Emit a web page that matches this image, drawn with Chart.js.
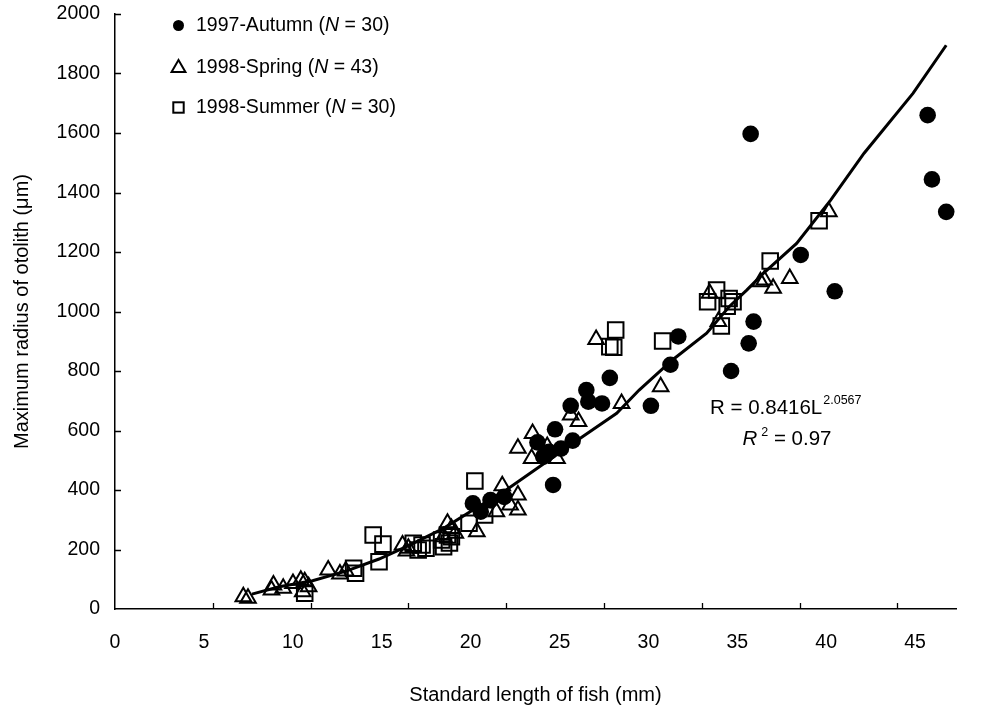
<!DOCTYPE html>
<html>
<head>
<meta charset="utf-8">
<script src="https://cdn.jsdelivr.net/npm/chart.js@4.4.0/dist/chart.umd.min.js"></script>
<style>
  html, body { margin: 0; padding: 0; background: #fff; }
  #chart { display: block; }
</style>
</head>
<body>
<canvas id="chart" width="986" height="712"></canvas>
<script>
// 1997 autumn (filled circles)
const autumnLength = [18.3, 18.7, 19.2, 19.9, 21.6, 21.9, 22.2, 22.4, 22.5, 22.8, 23.3, 23.4, 24.1, 24.2,
  24.9, 25.3, 27.4, 28.4, 28.8, 31.5, 32.4, 32.5, 32.65, 35.06, 36.8, 41.55, 41.77, 42.5];
const autumnRadius = [355, 327, 366, 377, 560, 512, 528, 417, 604, 539, 683, 566, 736, 697,
  691, 777, 683, 821, 916, 800, 893, 1597, 966, 1190, 1068, 1660, 1444, 1335];

// 1998 spring (open triangles)
const springLength = [6.56, 6.8, 8.0, 8.1, 8.6, 9.1, 9.5, 9.6, 9.7, 9.9, 10.9, 11.5, 11.8, 14.7, 14.9,
  15.0, 16.8, 17.0, 17.2, 17.4, 18.5, 19.5, 19.8, 20.2, 20.6, 20.6, 20.6, 21.3, 21.35, 22.1, 22.6,
  23.3, 23.7, 24.6, 25.9, 27.9, 30.4, 30.85, 33.0, 33.2, 33.65, 34.5, 36.5];
const springRadius = [41, 36, 64, 81, 70, 86, 97, 58, 92, 75, 131, 118, 128, 215, 195,
  204, 243, 288, 271, 255, 260, 327, 414, 350, 383, 333, 540, 506, 590, 546, 506,
  652, 630, 906, 691, 747, 1061, 966, 1100, 1106, 1078, 1111, 1335];

// 1998 summer (open squares)
const summerLength = [9.7, 12.2, 12.3, 13.2, 13.5, 13.7, 15.25, 15.5, 15.7, 15.9, 16.7, 16.8, 17.0,
  17.1, 17.2, 18.1, 18.4, 18.9, 25.3, 25.5, 25.6, 28.0, 30.3, 30.76, 31.0, 31.3, 31.4, 31.6, 33.5, 36.0];
const summerRadius = [53, 137, 120, 249, 159, 218, 221, 198, 215, 204, 232, 209, 249,
  222, 243, 288, 430, 316, 882, 880, 938, 901, 1033, 1072, 951, 1018, 1044, 1033, 1170, 1305];

// fitted curve
const fitLength = [7.0, 8.4, 10.1, 11.85, 13.5, 14.9, 16.8, 18.3, 20.0, 21.7, 23.9, 25.65, 26.8,
  28.5, 30.25, 31.4, 32.3, 33.15, 34.85, 36.6, 38.3, 40.8, 42.5];
const fitRadius = [50, 75, 95, 128, 168, 210, 271, 333, 400, 478, 579, 658, 736,
  837, 927, 1016, 1072, 1128, 1229, 1375, 1532, 1733, 1895];

const legendLabels = ["1997-Autumn", "1998-Spring", "1998-Summer"];
const legendCounts = [30, 43, 30];

const FONT = "'Liberation Sans', Arial, sans-serif";

const toPoints = (xs, ys) => xs.map((x, i) => ({ x: x, y: ys[i] }));

// small tick marks pointing into the plot
const insideTicks = {
  id: "insideTicks",
  afterDraw(chart) {
    const { ctx, chartArea, scales } = chart;
    ctx.save();
    ctx.strokeStyle = "#000";
    ctx.lineWidth = 1.3;
    ctx.beginPath();
    scales.x.ticks.forEach((t) => {
      if (t.value <= 0 || t.value % 5 !== 0) return;
      const px = Math.round(scales.x.getPixelForValue(t.value)) + 0.5;
      ctx.moveTo(px, chartArea.bottom);
      ctx.lineTo(px, chartArea.bottom - 6);
    });
    scales.y.ticks.forEach((t) => {
      if (t.value <= 0) return;
      const py = Math.round(scales.y.getPixelForValue(t.value)) + 0.5;
      ctx.moveTo(chartArea.left, py);
      ctx.lineTo(chartArea.left + 6, py);
    });
    ctx.stroke();
    ctx.restore();
  },
};

function drawRuns(ctx, x, y, runs) {
  runs.forEach((r) => {
    ctx.font = r.font;
    ctx.fillText(r.text, x, y + (r.dy || 0));
    x += ctx.measureText(r.text).width + (r.gap || 0);
  });
}

// legend + equation text
const overlay = {
  id: "overlay",
  afterDraw(chart) {
    const { ctx } = chart;
    ctx.save();
    ctx.fillStyle = "#000";
    ctx.strokeStyle = "#000";
    ctx.textBaseline = "middle";
    ctx.textAlign = "left";

    const mx = 178.5;
    const rows = [25.5, 68, 107.5];
    // circle
    ctx.beginPath();
    ctx.arc(mx, rows[0], 5.5, 0, Math.PI * 2);
    ctx.fill();
    // triangle
    ctx.lineWidth = 2;
    ctx.beginPath();
    const tr = 8;
    ctx.moveTo(mx, rows[1] - tr);
    ctx.lineTo(mx + tr * Math.sin(Math.PI / 3), rows[1] + tr / 2);
    ctx.lineTo(mx - tr * Math.sin(Math.PI / 3), rows[1] + tr / 2);
    ctx.closePath();
    ctx.stroke();
    // square
    ctx.strokeRect(mx - 5.2, rows[2] - 5.2, 10.4, 10.4);

    const f = "19.5px " + FONT;
    const fi = "italic 19.5px " + FONT;
    legendLabels.forEach((lab, i) => {
      drawRuns(ctx, 196, rows[i], [
        { text: lab + " (", font: f },
        { text: "N", font: fi },
        { text: " = " + legendCounts[i] + ")", font: f },
      ]);
    });

    const big = "20.5px " + FONT;
    const bigI = "italic 20.5px " + FONT;
    const small = "12.5px " + FONT;
    drawRuns(ctx, 710, 408, [
      { text: "R = 0.8416L", font: big, gap: 1 },
      { text: "2.0567", font: small, dy: -7 },
    ]);
    drawRuns(ctx, 742.5, 439, [
      { text: "R", font: bigI, gap: 4 },
      { text: "2", font: small, dy: -6 },
      { text: " = 0.97", font: big },
    ]);
    ctx.restore();
  },
};

const tickFont = { family: FONT, size: 19.5 };
const titleFont = { family: FONT, size: 20 };

new Chart(document.getElementById("chart"), {
  type: "scatter",
  data: {
    datasets: [
      {
        label: legendLabels[0],
        data: toPoints(autumnLength, autumnRadius),
        pointStyle: "circle",
        pointRadius: 8.3,
        pointBackgroundColor: "#000",
        pointBorderColor: "#000",
        pointBorderWidth: 0,
        order: 3,
      },
      {
        label: legendLabels[1],
        data: toPoints(springLength, springRadius),
        pointStyle: "triangle",
        pointRadius: 9,
        pointBackgroundColor: "rgba(0,0,0,0)",
        pointBorderColor: "#000",
        pointBorderWidth: 2,
        order: 2,
      },
      {
        label: legendLabels[2],
        data: toPoints(summerLength, summerRadius),
        pointStyle: "rect",
        pointRadius: 11,
        pointBackgroundColor: "rgba(0,0,0,0)",
        pointBorderColor: "#000",
        pointBorderWidth: 2,
        order: 1,
      },
      {
        label: "fit",
        data: toPoints(fitLength, fitRadius),
        showLine: true,
        borderColor: "#000",
        borderWidth: 3,
        pointRadius: 0,
        tension: 0,
        fill: false,
        order: 0,
      },
    ],
  },
  options: {
    responsive: false,
    animation: false,
    layout: { padding: { top: 14, right: 30, left: 0, bottom: 0 } },
    plugins: { legend: { display: false }, tooltip: { enabled: false } },
    scales: {
      x: {
        type: "linear",
        position: "bottom",
        weight: 0,
        min: 0,
        max: 43,
        ticks: { display: false, stepSize: 5, includeBounds: false },
        grid: { display: false, drawTicks: false },
        border: { display: true, color: "#000", width: 1.5 },
        afterFit: (s) => { s.height = 0; },
      },
      // label axis: the printed labels are spaced tighter than the tick marks
      x2: {
        type: "linear",
        position: "bottom",
        weight: 1,
        min: 0,
        max: 47.3,
        ticks: { stepSize: 5, includeBounds: false, padding: 22, color: "#000", font: tickFont, maxRotation: 0, autoSkip: false },
        grid: { display: false, drawTicks: false },
        border: { display: false },
        title: { display: true, text: "Standard length of fish (mm)", color: "#000", font: titleFont, padding: { top: 0, bottom: 5 } },
        afterFit: (s) => { s.height = 103; },
      },
      y: {
        type: "linear",
        min: 0,
        max: 2000,
        ticks: { stepSize: 200, padding: 15, color: "#000", font: tickFont, callback: (v) => String(v) },
        grid: { display: false, drawTicks: false },
        border: { display: true, color: "#000", width: 1.5 },
        title: { display: true, text: "Maximum radius of otolith (μm)", color: "#000", font: titleFont, padding: { top: 10, bottom: 0 } },
        afterFit: (s) => {
          s.width = 115;
          s.paddingTop = 0;
          s.paddingBottom = 0;
        },
      },
    },
  },
  plugins: [insideTicks, overlay],
});
</script>
</body>
</html>
